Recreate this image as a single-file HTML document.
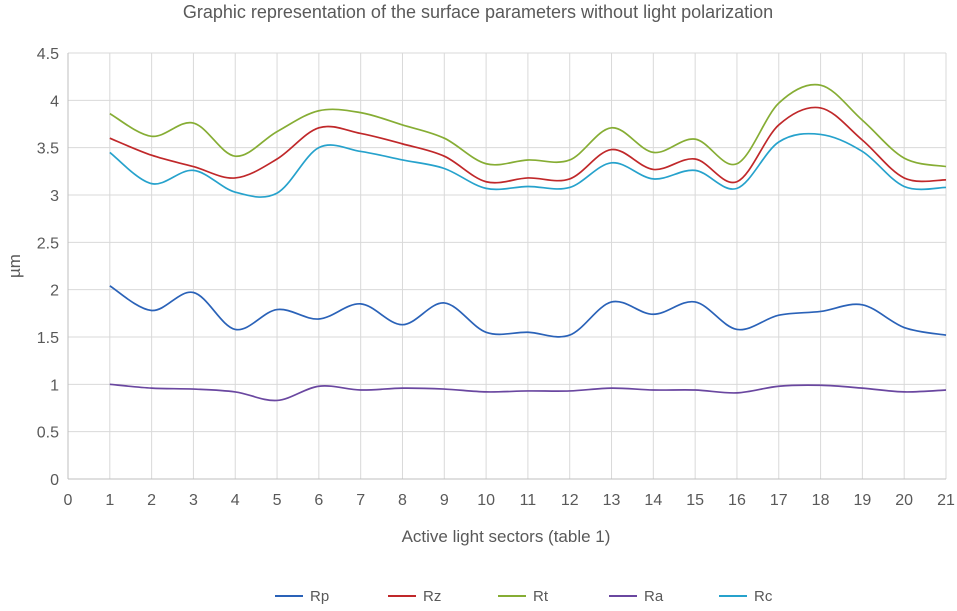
<!DOCTYPE html>
<html><head><meta charset="utf-8"><style>
body{margin:0;background:#fff;font-family:"Liberation Sans",sans-serif;}
svg text{font-family:"Liberation Sans",sans-serif;fill:#595959;}
</style></head><body>
<svg id="chart" width="957" height="606">
<text x="478" y="18" font-size="18" text-anchor="middle">Graphic representation of the surface parameters without light polarization</text>
<g id="grid"></g><g id="axes"></g><g id="series"></g><g id="legend"></g>
<text x="506" y="542" font-size="17" text-anchor="middle">Active light sectors (table 1)</text>
<text transform="translate(20,266) rotate(-90)" font-size="17" text-anchor="middle">µm</text>
</svg>
<script>
const categories=[1,2,3,4,5,6,7,8,9,10,11,12,13,14,15,16,17,18,19,20,21];
const seriesNames=["Rp","Rz","Rt","Ra","Rc"];
const Rp=[2.04,1.78,1.97,1.58,1.79,1.69,1.85,1.63,1.86,1.55,1.55,1.52,1.87,1.74,1.87,1.58,1.73,1.77,1.84,1.60,1.52];
const Rz=[3.60,3.42,3.30,3.18,3.38,3.71,3.65,3.54,3.41,3.14,3.18,3.17,3.48,3.27,3.38,3.14,3.74,3.92,3.58,3.18,3.16];
const Rt=[3.86,3.62,3.76,3.41,3.67,3.89,3.87,3.74,3.60,3.33,3.37,3.37,3.71,3.45,3.59,3.33,3.97,4.16,3.79,3.39,3.30];
const Ra=[1.00,0.96,0.95,0.92,0.83,0.98,0.94,0.96,0.95,0.92,0.93,0.93,0.96,0.94,0.94,0.91,0.98,0.99,0.96,0.92,0.94];
const Rc=[3.45,3.12,3.26,3.03,3.02,3.50,3.46,3.37,3.28,3.07,3.09,3.08,3.34,3.17,3.26,3.07,3.56,3.64,3.46,3.09,3.08];
const colors=["#2a62b8","#c0282a","#86ad34","#6a47a0","#26a2cc"];
const yTicks=[0,0.5,1,1.5,2,2.5,3,3.5,4,4.5];
const xTicks=[0,1,2,3,4,5,6,7,8,9,10,11,12,13,14,15,16,17,18,19,20,21];
const NS="http://www.w3.org/2000/svg";
const X0=68,X1=946,Y0=479,Y1=53;
const xs=v=>X0+(v-0)/(21-0)*(X1-X0);
const ys=v=>Y0-(v/4.5)*(Y0-Y1);
function mk(t,a,p){const e=document.createElementNS(NS,t);for(const k in a)e.setAttribute(k,a[k]);p.appendChild(e);return e;}
const grid=document.getElementById('grid'),axes=document.getElementById('axes');
yTicks.forEach(v=>{
 const l=mk('line',{x1:X0,x2:X1,y1:ys(v),y2:ys(v),stroke:'#d9d9d9','stroke-width':1},grid);
 
 
 const t=mk('text',{x:X0-9,y:ys(v)+6,'font-size':16,'text-anchor':'end'},axes);t.textContent=v;
 
 
});
xTicks.forEach(v=>{
 const l=mk('line',{x1:xs(v),x2:xs(v),y1:Y1,y2:Y0,stroke:'#d9d9d9','stroke-width':1},grid);
 
 
 const t=mk('text',{x:xs(v),y:Y0+26,'font-size':16,'text-anchor':'middle'},axes);t.textContent=v;
 
 
});
const ax=mk('line',{x1:X0,x2:X0,y1:Y1,y2:Y0,stroke:'#bfbfbf','stroke-width':1},axes);


const bx=mk('line',{x1:X0,x2:X1,y1:Y0,y2:Y0,stroke:'#bfbfbf','stroke-width':1},axes);


function smooth(pts){let d=`M${pts[0][0]},${pts[0][1]}`;
 for(let i=0;i<pts.length-1;i++){const p0=pts[Math.max(0,i-1)],p1=pts[i],p2=pts[i+1],p3=pts[Math.min(pts.length-1,i+2)];
 const t=1/6;d+=` C${p1[0]+(p2[0]-p0[0])*t},${p1[1]+(p2[1]-p0[1])*t} ${p2[0]-(p3[0]-p1[0])*t},${p2[1]-(p3[1]-p1[1])*t} ${p2[0]},${p2[1]}`;}
 return d;}
const data=[Rp,Rz,Rt,Ra,Rc];const sg=document.getElementById('series');
data.forEach((arr,i)=>{
 const p=mk('path',{d:smooth(arr.map((v,j)=>[xs(categories[j]),ys(v)])),fill:'none',stroke:colors[i],'stroke-width':1.7},sg);
 
 
});
const lg=document.getElementById('legend');const lx=[275,388,498,609,719];
seriesNames.forEach((n,i)=>{
 const g=mk('g',{},lg);
 
 
 mk('line',{x1:lx[i],x2:lx[i]+28,y1:596,y2:596,stroke:colors[i],'stroke-width':2},g);
 const t=mk('text',{x:lx[i]+35,y:601,'font-size':15},g);t.textContent=n;
});
</script>
</body></html>
